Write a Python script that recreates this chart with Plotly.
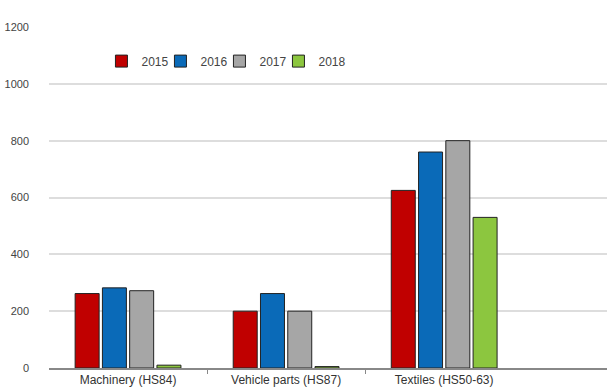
import plotly.graph_objects as go

categories = ["Machinery (HS84)", "Vehicle parts (HS87)", "Textiles (HS50-63)"]
years = ["2015", "2016", "2017", "2018"]
values = {
    "2015": [262, 200, 625],
    "2016": [282, 262, 760],
    "2017": [272, 200, 800],
    "2018": [10, 5, 530],
}
colors = {"2015": "#c00000", "2016": "#0a6ab8", "2017": "#a6a6a6", "2018": "#8cc63f"}
yticks = [0, 200, 400, 600, 800, 1000, 1200]

fig = go.Figure()
xpos = list(range(len(categories)))
for y in years:
    fig.add_trace(go.Bar(
        x=xpos, y=values[y], name=y,
        marker=dict(color=colors[y], line=dict(color="#222222", width=1)),
    ))
# invisible legend spacer so the last legend label is not clipped
fig.add_trace(go.Scatter(x=[None], y=[None], name=" ", mode="markers", hoverinfo="skip",
                         marker=dict(color="rgba(0,0,0,0)", size=1)))

fig.update_layout(
    width=607, height=390,
    margin=dict(l=49, r=0, t=27, b=22),
    paper_bgcolor="white", plot_bgcolor="white",
    barmode="group", bargap=0.31, bargroupgap=0.12,
    font=dict(family="Liberation Sans, Arial", size=11, color="#555555"),
    showlegend=True,
    legend=dict(orientation="h", x=0.094, y=0.9, xanchor="left", yanchor="middle",
                font=dict(size=12, color="#444444"), bgcolor="rgba(0,0,0,0)",
                itemwidth=30, entrywidth=14, entrywidthmode="pixels",
                traceorder="normal"),
    xaxis=dict(
        range=[-0.5, 3.03], tickmode="array", tickvals=xpos, ticktext=categories,
        showgrid=False, zeroline=False, showline=True, linecolor="#888888", linewidth=1.5,
        ticks="", ticklen=0,
        minor=dict(tickmode="array", tickvals=[0.5, 1.5], ticks="outside", ticklen=4,
                   tickcolor="#888888", tickwidth=1),
        tickfont=dict(size=12, color="#333333"),
    ),
    yaxis=dict(
        range=[0, 1200], tickmode="array", tickvals=yticks,
        showgrid=True, gridcolor="#dddddd", gridwidth=1.5, zeroline=False,
        showline=False, ticks="", ticklabelstandoff=19,
        tickfont=dict(size=11, color="#444444"),
    ),
)

fig.write_html("out.html")
